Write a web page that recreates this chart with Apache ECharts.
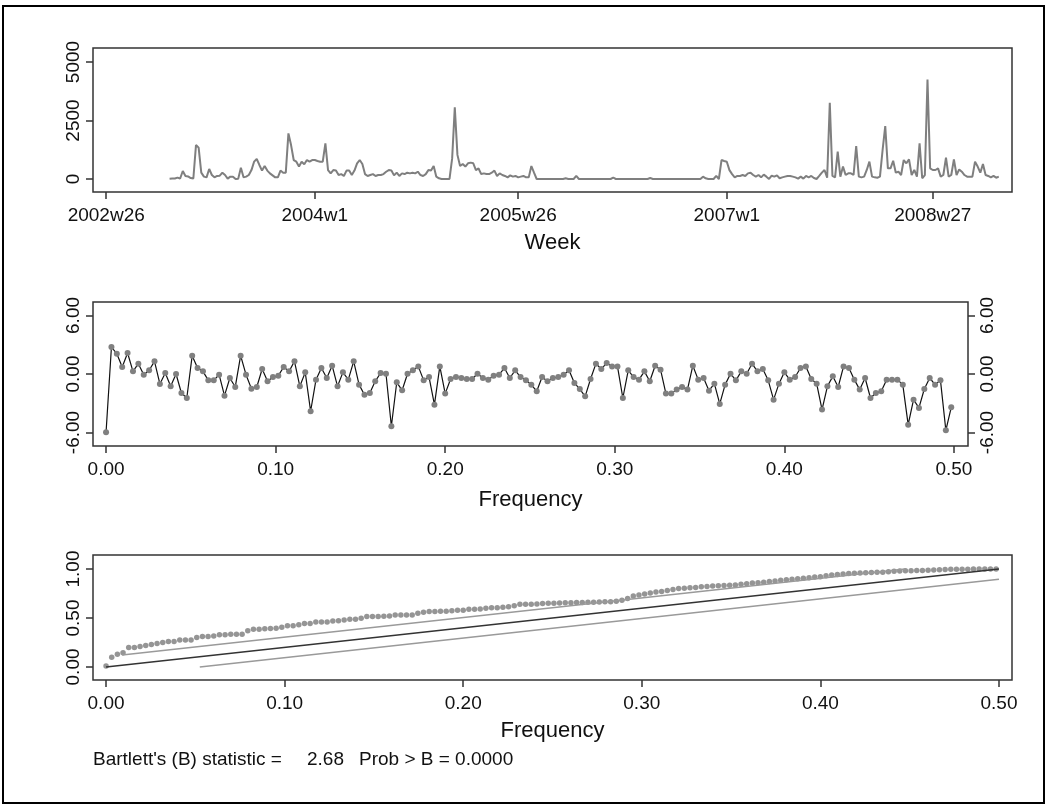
<!DOCTYPE html>
<html>
<head>
<meta charset="utf-8">
<script src="https://cdn.jsdelivr.net/npm/echarts@6/dist/echarts.min.js"></script>
<style>
  html, body { margin: 0; padding: 0; background: #fff; }
  #chart { width: 1048px; height: 807px; }
</style>
</head>
<body>
<div id="chart"></div>
<script>
// --- weekly series (first panel) ---
const firstWeek = '2002w50'
const weeklyCounts = [
  10, 20, 20, 60, 20, 340, 130, 110, 40, 20,
  1450, 1340, 270, 100, 70, 430, 170, 70, 130, 140,
  270, 170, 15, 100, 100, 0, 15, 480, 70, 100,
  170, 380, 740, 855, 600, 360, 555, 360, 240, 155,
  70, 70, 360, 270, 270, 1950, 1450, 810, 740, 530,
  740, 630, 810, 740, 810, 810, 770, 740, 740, 1520,
  380, 240, 380, 360, 170, 210, 130, 360, 360, 170,
  360, 670, 810, 640, 210, 130, 170, 210, 130, 170,
  170, 210, 310, 380, 360, 155, 270, 130, 240, 210,
  270, 240, 270, 240, 310, 170, 130, 210, 380, 360,
  555, 100, 30, 0, 0, 0, 0, 880, 3060, 1030,
  555, 640, 530, 670, 700, 670, 380, 450, 210, 240,
  210, 210, 270, 360, 130, 240, 170, 130, 70, 155,
  100, 130, 70, 100, 130, 70, 70, 555, 270, 0,
  0, 0, 0, 0, 0, 0, 0, 0, 0, 0,
  30, 0, 0, 0, 130, 0, 0, 0, 0, 0,
  0, 0, 0, 0, 0, 0, 0, 0, 55, 0,
  0, 0, 0, 0, 0, 0, 0, 0, 0, 0,
  0, 0, 40, 0, 0, 0, 0, 0, 0, 0,
  0, 0, 0, 0, 0, 0, 0, 0, 0, 0,
  0, 0, 100, 30, 0, 0, 0, 130, 0, 810,
  770, 740, 380, 210, 70, 130, 130, 170, 130, 240,
  270, 170, 100, 170, 70, 185, 100, 0, 140, 100,
  155, 30, 70, 100, 130, 130, 100, 70, 15, 100,
  15, 130, 70, 130, 40, 0, 130, 270, 385, 55,
  3260, 130, 70, 1170, 100, 530, 170, 240, 240, 170,
  1410, 100, 70, 100, 385, 740, 100, 70, 55, 100,
  1240, 2260, 455, 455, 780, 270, 310, 170, 810, 670,
  840, 170, 385, 100, 1520, 30, 170, 4250, 455, 385,
  385, 455, 100, 170, 910, 100, 170, 840, 170, 410,
  310, 170, 100, 100, 100, 740, 530, 270, 640, 170,
  130, 70, 130, 55, 100
]
const weekTickLabels = ['2002w26', '2004w1', '2005w26', '2007w1', '2008w27']
const countTicks = [0, 2500, 5000]

// --- log periodogram (second panel), frequencies k / nObs ---
const nObs = 315
const logPeriodogram = [
  -5.97, 2.76, 2.08, 0.72, 2.15, 0.27, 1.06, -0.07, 0.38, 1.3,
  -1.02, 0.1, -1.26, 0, -1.95, -2.46, 1.88, 0.61, 0.27, -0.65,
  -0.65, -0.07, -2.22, -0.41, -1.33, 1.88, -0.07, -1.5, -1.33, 0.51,
  -0.75, -0.31, -0.17, 0.72, 0.27, 1.3, -1.26, 0.17, -3.82, -0.58,
  0.61, -0.41, 0.85, -1.26, 0.17, -0.58, 1.3, -1.09, -2.12, -1.95,
  -0.75, 0.1, 0.03, -5.36, -0.85, -1.67, 0.03, 0.38, 0.78, -0.65,
  -0.31, -3.14, 0.78, -2.01, -0.51, -0.31, -0.41, -0.51, -0.51, 0.03,
  -0.41, -0.58, -0.17, -0.07, 0.61, -0.41, 0.38, -0.31, -0.65, -1.09,
  -1.77, -0.31, -0.75, -0.41, -0.31, -0.07, 0.38, -0.92, -1.54, -2.29,
  -0.51, 1.06, 0.51, 1.13, 0.78, 0.78, -2.46, 0.38, -0.31, -0.58,
  0.27, -0.75, 0.85, 0.44, -2.01, -2.01, -1.6, -1.33, -1.6, 0.85,
  -0.58, -0.41, -1.71, -0.99, -3.07, -1.09, 0.03, -0.65, 0.27, 0.03,
  1.06, 0.27, 0.51, -0.65, -2.63, -0.99, 0.17, -0.58, -0.31, 0.61,
  0.78, -0.51, -0.99, -3.65, -1.26, -0.24, -1.33, 0.78, 0.61, -0.58,
  -1.6, -0.41, -2.46, -1.95, -1.77, -0.58, -0.58, -0.58, -1.09, -5.19,
  -2.63, -3.48, -1.54, -0.41, -1.09, -0.65, -5.77, -3.41
]
const logTicks = [-6, 0, 6]

// --- cumulative periodogram (third panel) ---
const cumPeriodogram = [
  0.01, 0.1, 0.13, 0.146, 0.2, 0.2, 0.21, 0.22, 0.23, 0.24,
  0.25, 0.26, 0.26, 0.275, 0.275, 0.275, 0.3, 0.31, 0.31, 0.316,
  0.33, 0.33, 0.333, 0.333, 0.333, 0.37, 0.385, 0.385, 0.39, 0.392,
  0.395, 0.405, 0.42, 0.42, 0.43, 0.445, 0.445, 0.46, 0.46, 0.46,
  0.47, 0.473, 0.48, 0.486, 0.486, 0.497, 0.514, 0.514, 0.514, 0.517,
  0.52, 0.53, 0.53, 0.53, 0.53, 0.548, 0.558, 0.565, 0.565, 0.57,
  0.57, 0.573, 0.58, 0.58, 0.59, 0.59, 0.593, 0.6, 0.605, 0.605,
  0.61, 0.615, 0.626, 0.64, 0.64, 0.64, 0.643, 0.648, 0.65, 0.65,
  0.652, 0.655, 0.655, 0.657, 0.658, 0.66, 0.66, 0.662, 0.665, 0.667,
  0.67, 0.68, 0.7, 0.725, 0.735, 0.745, 0.755, 0.765, 0.77, 0.78,
  0.79, 0.8, 0.803, 0.808, 0.812, 0.818, 0.822, 0.826, 0.83, 0.832,
  0.835, 0.838, 0.845, 0.85, 0.856, 0.86, 0.866, 0.872, 0.878, 0.884,
  0.89, 0.895, 0.9, 0.906, 0.912, 0.918, 0.922, 0.93, 0.938, 0.944,
  0.95, 0.953, 0.956, 0.96, 0.963, 0.965, 0.966, 0.968, 0.972, 0.978,
  0.98, 0.982, 0.983, 0.984, 0.985, 0.987, 0.99, 0.992, 0.994, 0.997,
  0.997, 0.998, 0.998, 0.999, 1, 1, 1, 1
]
const cumTicks = [0, 0.5, 1]
const freqTicks = [0, 0.1, 0.2, 0.3, 0.4, 0.5]
const diagonalLine = [[0, 0], [0.5, 1]]
const upperBand = [[0.009, 0.123], [0.4475, 1]]
const lowerBand = [[0.0525, 0], [0.5, 0.895]]
const bartlettStat = '2.68'
const bartlettProb = '0.0000'

// Stata weekly date: (year - 1960) * 52 + (week - 1)
const parseWeek = (s) => {
  const [y, w] = s.split('w').map(Number)
  return (y - 1960) * 52 + (w - 1)
}
const fmtWeek = (v) => `${1960 + Math.floor(v / 52)}w${(v % 52) + 1}`

const startWeek = parseWeek(firstWeek)
const weeklyData = weeklyCounts.map((v, i) => [startWeek + i, v])
const weekTickPos = weekTickLabels.map(parseWeek)
const logData = logPeriodogram.map((v, k) => [k / nObs, v])
const cumData = cumPeriodogram.map((v, k) => [k / nObs, v])

const font = '"Liberation Sans", Arial, Helvetica, sans-serif'
const ink = '#111'
const tickStyle = { color: '#333', width: 1.5 }

const xAxisCfg = (gridIndex, min, max, ticks, formatter, name, nameGap) => ({
  gridIndex,
  type: 'value',
  min,
  max,
  axisLine: { show: false, onZero: false },
  axisTick: { show: true, length: 7, lineStyle: tickStyle, customValues: ticks },
  axisLabel: { customValues: ticks, formatter, fontSize: 19, color: ink, margin: 14, fontFamily: font },
  splitLine: { show: false },
  name,
  nameLocation: 'middle',
  nameGap,
  nameTextStyle: { fontSize: 22, color: ink, fontFamily: font }
})

const yAxisCfg = (gridIndex, min, max, ticks, formatter, position) => ({
  gridIndex,
  type: 'value',
  position: position || 'left',
  min,
  max,
  axisLine: { show: false, onZero: false },
  axisTick: { show: true, length: 7, lineStyle: tickStyle, customValues: ticks },
  axisLabel: { customValues: ticks, formatter, rotate: 90, fontSize: 19, color: ink, margin: 10, fontFamily: font },
  splitLine: { show: false }
})

const gridBox = { show: true, borderColor: '#333', borderWidth: 1.5, backgroundColor: 'transparent' }
const freqFmt = (v) => v.toFixed(2)
const noteFont = '19px ' + font

const chart = echarts.init(document.getElementById('chart'))
chart.setOption({
  animation: false,
  backgroundColor: '#fff',
  textStyle: { fontFamily: font },
  grid: [
    { ...gridBox, left: 93, top: 48, width: 919, height: 144 },
    { ...gridBox, left: 93, top: 302, width: 875, height: 144 },
    { ...gridBox, left: 93, top: 555, width: 919, height: 125 }
  ],
  xAxis: [
    xAxisCfg(0, 2204, 2552, weekTickPos, fmtWeek, 'Week', 40),
    xAxisCfg(1, -0.0077, 0.5083, freqTicks, freqFmt, 'Frequency', 43),
    xAxisCfg(2, -0.0073, 0.5073, freqTicks, freqFmt, 'Frequency', 40)
  ],
  yAxis: [
    yAxisCfg(0, -556, 5598, countTicks, (v) => String(v)),
    yAxisCfg(1, -7.38, 7.38, logTicks, freqFmt),
    yAxisCfg(1, -7.38, 7.38, logTicks, freqFmt, 'right'),
    yAxisCfg(2, -0.133, 1.143, cumTicks, freqFmt)
  ],
  series: [
    {
      type: 'line', xAxisIndex: 0, yAxisIndex: 0, data: weeklyData,
      showSymbol: false, lineStyle: { color: '#7f7f7f', width: 2 }
    },
    {
      type: 'line', xAxisIndex: 1, yAxisIndex: 1, data: logData,
      symbol: 'circle', symbolSize: 6,
      itemStyle: { color: '#808080' },
      lineStyle: { color: '#111', width: 1.2 }
    },
    {
      type: 'line', xAxisIndex: 2, yAxisIndex: 3, data: upperBand,
      showSymbol: false, lineStyle: { color: '#9a9a9a', width: 1.5 }
    },
    {
      type: 'line', xAxisIndex: 2, yAxisIndex: 3, data: lowerBand,
      showSymbol: false, lineStyle: { color: '#9a9a9a', width: 1.5 }
    },
    {
      type: 'line', xAxisIndex: 2, yAxisIndex: 3, data: diagonalLine,
      showSymbol: false, lineStyle: { color: '#333', width: 1.5 }
    },
    {
      type: 'scatter', xAxisIndex: 2, yAxisIndex: 3, data: cumData,
      symbol: 'circle', symbolSize: 5.5, itemStyle: { color: '#7a7a7a' }
    }
  ],
  graphic: [
    {
      type: 'rect', silent: true,
      shape: { x: 3, y: 6, width: 1041, height: 797 },
      style: { fill: 'none', stroke: '#000', lineWidth: 2 }
    },
    {
      type: 'text', x: 93, y: 760,
      style: { text: "Bartlett's (B) statistic =", font: noteFont, fill: ink, verticalAlign: 'middle' }
    },
    {
      type: 'text', x: 307, y: 760,
      style: { text: bartlettStat, font: noteFont, fill: ink, verticalAlign: 'middle' }
    },
    {
      type: 'text', x: 359, y: 760,
      style: { text: 'Prob > B = ' + bartlettProb, font: noteFont, fill: ink, verticalAlign: 'middle' }
    }
  ]
})
</script>
</body>
</html>
